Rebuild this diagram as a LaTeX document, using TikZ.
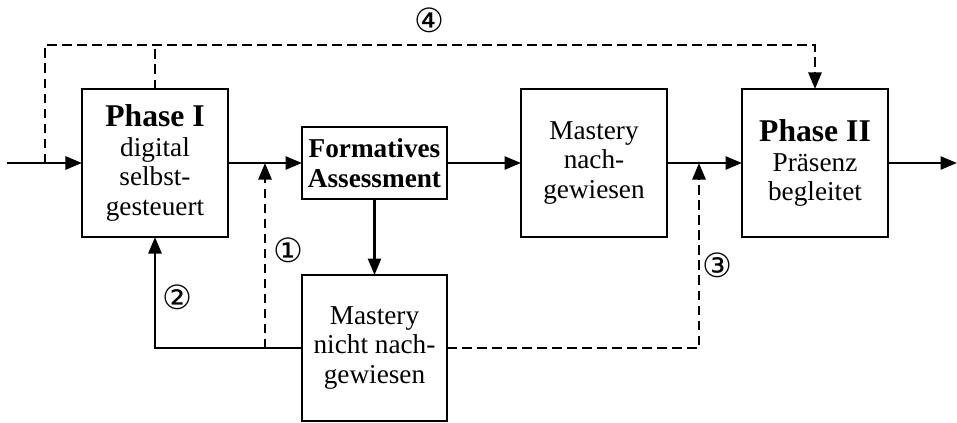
\documentclass[tikz,border=0pt]{standalone}
\usepackage{fontspec}
\setmainfont{Liberation Serif}
\newfontfamily\circfont{DejaVu Sans}
\usetikzlibrary{arrows.meta}

\begin{document}
\begin{tikzpicture}[x=0.2mm, y=-0.2mm,
  every node/.style={font=\fontsize{15.5}{17}\selectfont},
  box/.style={draw, line width=0.75pt, inner sep=0pt, outer sep=0pt, align=center,
    minimum width=29.2mm, minimum height=29.6mm},
  flow/.style={line width=1.5pt, -{Triangle[length=3.3mm, width=2.6mm]}},
  back/.style={flow, dash pattern=on 1.9mm off 1.1mm},
  num/.style={font=\circfont\fontsize{19}{20}\selectfont}]

\useasboundingbox (0,0) rectangle (957,422);

% BOXES
\node[box] (phaseA) at (155,163)
  {{\fontsize{18}{19}\selectfont\bfseries Phase I}\\digital\\selbst-\\gesteuert};
\node[box, minimum width=29mm, minimum height=14.4mm, font=\fontsize{15.5}{17}\selectfont\bfseries]
  (formativ) at (374.5,163) {Formatives\\Assessment};
\node[box] (masteryA) at (594,163) {Mastery\\nach-\\gewiesen};
\node[box, minimum width=29mm, minimum height=29.2mm] (masteryB) at (374.5,348)
  {Mastery\\nicht nach-\\gewiesen};
\node[box] (phaseB) at (815,163)
  {{\fontsize{18}{19}\selectfont\bfseries Phase II}\\Präsenz\\begleitet};

% POINTS
\coordinate (start) at (7,163);
\coordinate (stop) at (957,163);
\coordinate (joinA) at (265,163);
\coordinate (joinB) at (699,163);
\coordinate (forkA) at (265,348);
\coordinate (forkB) at (45,163);
\coordinate (topA) at (45,45);
\coordinate (topB) at (815,45);

% MAIN FLOW
\draw[flow] (start) -- (phaseA.west);
\draw[flow] (phaseA.east) -- (formativ.west);
\draw[flow] (formativ.east) -- (masteryA.west);
\draw[flow] (masteryA.east) -- (phaseB.west);
\draw[flow] (phaseB.east) -- (stop);
\draw[flow] (formativ.south) -- (masteryB.north);

% RETURN PATHS
\draw[flow] (masteryB.west) -| (phaseA.south);
\draw[back] (forkA) -- (joinA);
\draw[back] (masteryB.east) -| (joinB);
\draw[back] (forkB) -- (topA) -- (topB) -- (phaseB.north);
\draw[line width=1.5pt, dash pattern=on 1.9mm off 1.1mm] (phaseA.north) -- (phaseA.north |- topA);

% LABELS
\node[num] (numA) at (288,250) {①};
\node[num] (numB) at (177,297) {②};
\node[num] (numC) at (717,265) {③};
\node[num] (numD) at (429,20) {④};

\end{tikzpicture}
\end{document}
